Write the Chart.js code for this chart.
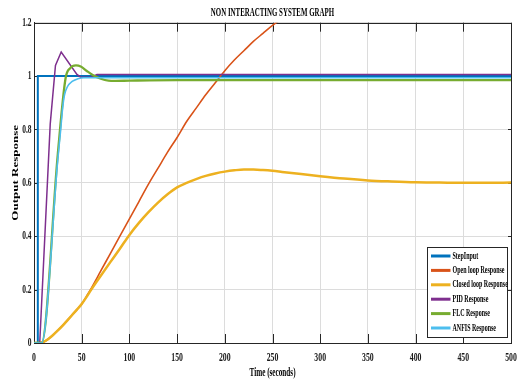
<!DOCTYPE html>
<html>
  <head>
    <meta charset="utf-8" />
    <title>NON INTERACTING SYSTEM GRAPH</title>
    <style>
      html, body { margin: 0; padding: 0; background: #fff; }
      #chart { display: block; }
    </style>
  </head>
  <body>
    <canvas id="chart" width="518" height="381"></canvas>

    <script src="https://cdn.jsdelivr.net/npm/chart.js@4.4.0/dist/chart.umd.min.js"></script>
    <script>
      var chartTitle = "NON INTERACTING SYSTEM GRAPH";
      var yTitle = "Output Response";

      // series names, in legend order
      var seriesNames = [
        "StepInput",
        "Open loop Response",
        "Closed loop Response",
        "PID Response",
        "FLC Response",
        "ANFIS Response",
      ];

      // time (s) and output for each response
      var tStep = [0, 4, 4, 500];
      var yStep = [0, 0, 1, 1];

      var tOpen = [0, 5, 10, 15, 20, 25, 30, 35, 40, 45, 50, 55, 60, 70, 80, 90, 100, 110, 120, 130, 140, 150, 160, 170, 180, 190, 200, 210, 220, 230, 240, 250, 260, 270];
      var yOpen = [0, 0, 0.004, 0.015, 0.03, 0.047, 0.065, 0.085, 0.105, 0.125, 0.146, 0.175, 0.205, 0.27, 0.335, 0.4, 0.465, 0.53, 0.595, 0.655, 0.715, 0.77, 0.83, 0.88, 0.93, 0.975, 1.02, 1.06, 1.095, 1.13, 1.16, 1.19, 1.215, 1.24];

      var tClosed = [0, 5, 10, 15, 20, 25, 30, 35, 40, 45, 50, 55, 60, 70, 80, 90, 100, 110, 120, 130, 140, 150, 160, 170, 180, 190, 200, 210, 220, 230, 240, 250, 260, 280, 300, 325, 350, 375, 400, 425, 450, 475, 500];
      var yClosed = [0, 0, 0.004, 0.015, 0.03, 0.047, 0.065, 0.085, 0.105, 0.125, 0.146, 0.172, 0.2, 0.252, 0.303, 0.353, 0.405, 0.45, 0.49, 0.526, 0.557, 0.583, 0.6, 0.614, 0.626, 0.635, 0.642, 0.647, 0.65, 0.65, 0.648, 0.645, 0.641, 0.633, 0.625, 0.616, 0.609, 0.605, 0.602, 0.601, 0.6, 0.6, 0.601];

      var tPid = [0, 6, 17, 22.5, 28.5, 45, 49, 60, 66, 500];
      var yPid = [0, 0, 0.82, 1.04, 1.09, 1.006, 0.996, 0.996, 1.006, 1.006];

      var tFlc = [0, 8, 25, 33, 38, 44, 49, 55, 62, 70, 78, 85, 100, 150, 500];
      var yFlc = [0, 0, 0.71, 0.99, 1.03, 1.04, 1.036, 1.02, 1.003, 0.99, 0.983, 0.982, 0.983, 0.985, 0.985];

      var tAnfis = [0, 8, 25, 28, 30, 32, 35, 40, 46, 52, 500];
      var yAnfis = [0, 0, 0.69, 0.8, 0.88, 0.93, 0.96, 0.98, 0.99, 0.994, 0.994];

      var colors = ["#0072BD", "#D95319", "#EDB120", "#7E2F8E", "#77AC30", "#4DBEEE"];
      var widths = [2, 1.6, 2.5, 1.5, 2.3, 1.6];

      var SERIF = "'Liberation Serif', 'Times New Roman', serif";
      var AXIS = "#262626";
      var NARROW = 0.6;

      function points(t, y) {
        return t.map(function (v, i) {
          return { x: v, y: y[i] };
        });
      }

      var ctx = document.getElementById("chart").getContext("2d");

      // condensed lettering: upright strings get squeezed through maxWidth,
      // rotated ones get squeezed across their height instead
      var plainFill = ctx.fillText.bind(ctx);
      ctx.fillText = function (text, x, y, maxWidth) {
        var m = ctx.getTransform();
        if (m.b !== 0 || m.c !== 0) {
          ctx.save();
          ctx.translate(x, y);
          ctx.scale(1, NARROW);
          plainFill(text, 0, 0, maxWidth);
          ctx.restore();
          return;
        }
        var w = ctx.measureText(text).width * NARROW;
        if (maxWidth !== undefined && maxWidth < w) w = maxWidth;
        return plainFill(text, x, y, w);
      };

      // ticks pointing into the plot on all four sides, plus the closed box
      var innerTicks = {
        id: "innerTicks",
        beforeDatasetsDraw: function (chart) {
          var c = chart.ctx, a = chart.chartArea;
          var x = chart.scales.x, y = chart.scales.y;
          c.save();
          c.strokeStyle = AXIS;
          c.lineWidth = 1;
          c.beginPath();
          x.ticks.forEach(function (t) {
            var px = Math.round(x.getPixelForValue(t.value)) + 0.5;
            c.moveTo(px, a.bottom);
            c.lineTo(px, a.bottom - 9);
            c.moveTo(px, a.top);
            c.lineTo(px, a.top + 9);
          });
          y.ticks.forEach(function (t) {
            var py = Math.round(y.getPixelForValue(t.value)) + 0.5;
            c.moveTo(a.left, py);
            c.lineTo(a.left + 4, py);
            c.moveTo(a.right, py);
            c.lineTo(a.right - 3, py);
          });
          c.rect(Math.round(a.left) + 0.5, Math.round(a.top) + 0.5,
                 Math.round(a.right - a.left), Math.round(a.bottom - a.top));
          c.stroke();
          c.restore();
        },
      };

      // plot title over the plot area, y label a little above the middle
      var plotTitles = {
        id: "plotTitles",
        afterDraw: function (chart) {
          var c = chart.ctx, a = chart.chartArea;
          c.save();
          c.fillStyle = "#000";
          c.textAlign = "center";
          c.textBaseline = "middle";
          c.font = "bold 11.5px " + SERIF;
          c.fillText(chartTitle, (a.left + a.right) / 2, 13);
          c.translate(15.5, (a.top + a.bottom) / 2 - 10);
          c.rotate(-Math.PI / 2);
          c.font = "bold 13px " + SERIF;
          c.fillText(yTitle, 0, 0);
          c.restore();
        },
      };

      // boxed legend in the lower right corner of the plot
      var boxLegend = {
        id: "boxLegend",
        afterDraw: function (chart) {
          var c = chart.ctx, a = chart.chartArea;
          var w = 80, h = 90;
          var left = Math.round(a.right - 4 - w) + 0.5;
          var top = Math.round(a.bottom - 6 - h) + 0.5;
          c.save();
          c.fillStyle = "#fff";
          c.fillRect(left, top, w, h);
          c.strokeStyle = AXIS;
          c.lineWidth = 1;
          c.strokeRect(left, top, w, h);
          c.font = "bold 10px " + SERIF;
          c.textBaseline = "middle";
          c.textAlign = "left";
          chart.data.datasets.forEach(function (ds, i) {
            var ry = top + 8.5 + i * 14.4;
            c.strokeStyle = ds.borderColor;
            c.lineWidth = 3;
            c.beginPath();
            c.moveTo(left + 3.5, ry);
            c.lineTo(left + 23, ry);
            c.stroke();
            c.fillStyle = "#000";
            c.fillText(ds.label, left + 25, ry);
          });
          c.restore();
        },
      };

      var series = [
        points(tStep, yStep),
        points(tOpen, yOpen),
        points(tClosed, yClosed),
        points(tPid, yPid),
        points(tFlc, yFlc),
        points(tAnfis, yAnfis),
      ];

      var datasets = series.map(function (data, i) {
        return {
          label: seriesNames[i],
          data: data,
          borderColor: colors[i],
          backgroundColor: colors[i],
          borderWidth: widths[i],
          pointRadius: 0,
          fill: false,
          tension: 0,
          cubicInterpolationMode: i === 0 || i === 3 ? "default" : "monotone",
          order: series.length - i,
        };
      });

      var chart = new Chart(ctx, {
        type: "line",
        data: { datasets: datasets },
        options: {
          responsive: false,
          animation: false,
          parsing: false,
          layout: { padding: { left: 0, right: 7, top: 22.7, bottom: 0 } },
          plugins: {
            legend: { display: false },
            tooltip: { enabled: false },
            title: { display: false },
          },
          scales: {
            x: {
              type: "linear",
              min: 0,
              max: 500,
              ticks: {
                stepSize: 50,
                autoSkip: false,
                maxRotation: 0,
                padding: 7,
                color: "#1a1a1a",
                font: { family: SERIF, size: 13, weight: "bold" },
              },
              grid: { color: "#dcdcdc", drawTicks: false },
              border: { color: AXIS, width: 1 },
              title: {
                display: true,
                text: "Time (seconds)",
                color: "#000",
                font: { family: SERIF, size: 12, weight: "bold" },
                padding: { top: 0, bottom: 1 },
              },
              afterFit: function (s) {
                s.height = 38;
                s.paddingLeft = 0;
                s.paddingRight = 0;
              },
            },
            y: {
              type: "linear",
              min: 0,
              max: 1.2,
              ticks: {
                stepSize: 0.2,
                padding: 2.5,
                color: "#1a1a1a",
                font: { family: SERIF, size: 12.5, weight: "bold" },
                callback: function (v) {
                  return String(Number(v.toFixed(1)));
                },
              },
              grid: { color: "#dcdcdc", drawTicks: false },
              border: { color: AXIS, width: 1 },
              afterFit: function (s) {
                s.width = 34;
                s.paddingTop = 0;
                s.paddingBottom = 0;
              },
            },
          },
        },
        plugins: [innerTicks, plotTitles, boxLegend],
      });
    </script>
  </body>
</html>
